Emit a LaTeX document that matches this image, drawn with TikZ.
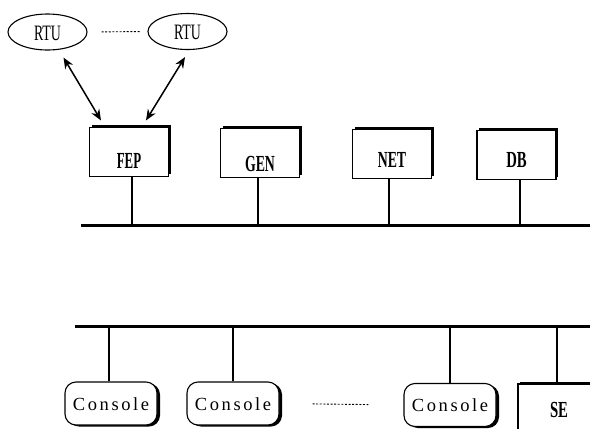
\documentclass[tikz,border=0pt]{standalone}
\usepackage{fontspec}
\setmainfont{Liberation Serif}
\newfontfamily\consolefont[LetterSpace=14]{Liberation Serif}
\usetikzlibrary{shapes.geometric,arrows.meta,shadows}
% narrow (condensed) lettering for the unit labels
\newcommand\narrowtxt[2][0.6]{\scalebox{#1}[1]{#2}}
\begin{document}
\begin{tikzpicture}[x=1pt,y=-1pt,
  rtu/.style={draw, ellipse, line width=1.1pt, inner sep=0pt,
    minimum width=79pt, minimum height=36pt,
    font=\fontsize{22}{22}\selectfont, text height=16pt, text depth=-15pt},
  unitbox/.style={draw, line width=1.1pt, fill=white, inner sep=0pt,
    minimum width=79pt, minimum height=49pt, text depth=0pt,
    font=\fontsize{23}{23}\selectfont\bfseries,
    drop shadow={shadow xshift=2.2pt, shadow yshift=2.2pt, opacity=1, fill=black}},
  console/.style={draw, line width=1.1pt, fill=white, rounded corners=11pt,
    inner sep=0pt, minimum width=92pt, minimum height=43pt,
    font=\consolefont\fontsize{18.5}{18.5}\selectfont,
    text height=13pt, text depth=-4pt,
    drop shadow={shadow xshift=3pt, shadow yshift=-1.5pt, opacity=1, fill=black}},
  bus/.style={line width=3pt},
  stem/.style={line width=1.5pt},
  link/.style={line width=1.5pt, {Stealth[length=11pt,width=9pt]}-{Stealth[length=11pt,width=9pt]}},
  gap/.style={line width=0.9pt, dash pattern=on 2pt off 1.6pt}]

\path[use as bounding box] (0,0) rectangle (590,429);
\clip (0,0) rectangle (590,429);

% remote terminal units
\node[rtu] (rtu1) at (47.5,32) {\narrowtxt[0.63]{RTU}\hspace{9pt}};
\node[rtu] (rtu2) at (187.5,31.5) {\narrowtxt[0.63]{RTU}\hspace{13pt}};
\draw[gap, shorten <=14pt, shorten >=7pt] (rtu1.east) -- (rtu2.west);

% server units on the upper network
\node[unitbox, text height=32pt] (fep) at (129,152) {\narrowtxt[0.56]{FEP}\hspace{8pt}};
\node[unitbox, text height=36pt] (gen) at (260,153) {\narrowtxt{GEN}\hspace{16pt}};
\node[unitbox, text height=26pt] (net) at (392,154) {\narrowtxt{NET}\hspace{21pt}};
\node[unitbox, text height=25pt] (db)  at (516.5,155) {\narrowtxt[0.64]{DB}\hspace{15pt}};

% links between the RTUs and the front-end processor
\draw[link] ([xshift=16pt,yshift=-7pt]rtu1.south) -- ([xshift=-28pt,yshift=6.5pt]fep.north);
\draw[link] ([xshift=-2.5pt,yshift=-7pt]rtu2.south) -- ([xshift=17pt,yshift=6.5pt]fep.north);

% upper bus
\coordinate (ubusW) at (81,225);
\coordinate (ubusE) at (592,225);
\draw[bus] (ubusW) -- (ubusE);
\draw[stem] ([xshift=3pt]fep.south) -- ([xshift=3pt]fep.south |- ubusW);
\draw[stem] ([xshift=-2pt]gen.south) -- ([xshift=-2pt]gen.south |- ubusW);
\draw[stem] ([xshift=-3pt]net.south) -- ([xshift=-3pt]net.south |- ubusW);
\draw[stem] ([xshift=3.5pt]db.south) -- ([xshift=3.5pt]db.south |- ubusW);

% consoles on the lower network
\node[console] (con1) at (111,403.5) {Console};
\node[console] (con2) at (233,403.5) {Console};
\node[console] (con3) at (450,405) {Console};
\draw[gap, shorten <=33pt, shorten >=35pt] (con2.east) -- (con3.west);
\node[unitbox, minimum width=82pt, minimum height=60pt,
      text height=13pt, text depth=7pt] (se) at (559,414) {\narrowtxt[0.64]{SE}\hspace{6pt}};

% lower bus
\coordinate (lbusW) at (75,326);
\coordinate (lbusE) at (592,326);
\draw[bus] (lbusW) -- (lbusE);
\draw[stem] ([xshift=-2pt]con1.north) -- ([xshift=-2pt]con1.north |- lbusW);
\draw[stem] (con2.north) -- (con2.north |- lbusW);
\draw[stem] (con3.north) -- (con3.north |- lbusW);
\draw[stem] ([xshift=-2pt]se.north) -- ([xshift=-2pt]se.north |- lbusW);
\end{tikzpicture}
\end{document}
